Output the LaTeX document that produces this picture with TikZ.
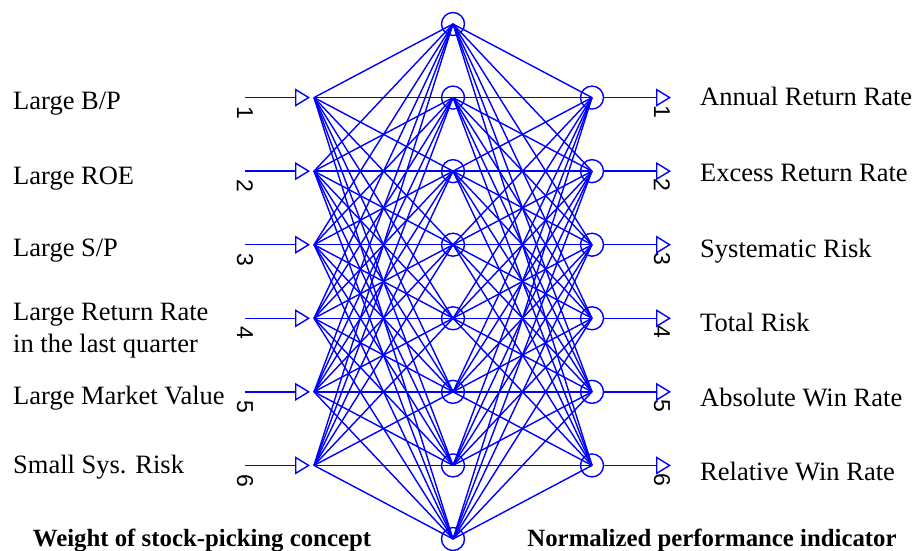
\documentclass[tikz,border=0pt]{standalone}
\usepackage{fontspec}
\setmainfont{Liberation Serif}
\newfontfamily\numfont{Liberation Sans}
\usetikzlibrary{arrows.meta}
\definecolor{netblue}{RGB}{0,0,255}
\begin{document}
\begin{tikzpicture}[x=1pt,y=-1pt,
  net/.style={draw=netblue, line width=1.4pt},
  hid/.style={circle, draw=netblue, line width=1.4pt, minimum size=23pt, inner sep=0pt},
  tipped/.style={net, -{Triangle[open, length=15pt, width=18pt]}},
  num/.style={font=\numfont\fontsize{23}{23}\selectfont, rotate=-90, inner sep=0pt},
  lab/.style={font=\fontsize{26.5}{30}\selectfont, anchor=base west, inner sep=0pt, align=left},
  foot/.style={font=\bfseries\fontsize{24.8}{28}\selectfont, anchor=base, inner sep=0pt}]
\useasboundingbox (0,0) rectangle (915,551);
% hidden layer
\foreach \k in {0,...,7}
  \node[hid] (h\k) at (453,{24+73.57*\k}) {};
% input and output layers
\foreach \i in {1,...,6}{
  \pgfmathsetmacro{\yy}{24+73.57*\i}
  \coordinate (s\i) at (245,\yy);
  \coordinate (t\i) at (310,\yy);
  \coordinate (in\i) at (314,\yy);
  \node[hid] (o\i) at (592,\yy) {};
  \coordinate (ot\i) at (671,\yy);
  \node[num] (ni\i) at (245,\yy+15) {\i};
  \node[num] (no\i) at (662,\yy+14) {\i};
  \draw[tipped] (s\i) -- (t\i);
  \draw[tipped] (o\i.east) -- (ot\i);
}
\foreach \i in {1,...,6}
  \foreach \k in {0,...,7}{
    \draw[net] (in\i) -- (h\k.center);
    \draw[net] (h\k.center) -- (o\i.center);
  }
% input labels
\node[lab] (l1) at (13,109) {Large B/P};
\node[lab] (l2) at (13,184) {Large ROE};
\node[lab] (l3) at (13,256) {Large S/P};
\node[lab] (l4a) at (13,320) {Large Return Rate};
\node[lab] (l4b) at (13,352) {in the last quarter};
\node[lab] (l5) at (13,404) {Large Market Value};
\node[lab] (l6) at (13,473) {Small Sys. Risk};
% output labels
\node[lab] (r1) at (700,105) {Annual Return Rate};
\node[lab] (r2) at (700,181.5) {Excess Return Rate};
\node[lab] (r3) at (700,257.5) {Systematic Risk};
\node[lab] (r4) at (700,331.5) {Total Risk};
\node[lab] (r5) at (700,406.5) {Absolute Win Rate};
\node[lab] (r6) at (700,480.5) {Relative Win Rate};
% footers
\node[foot] (f1) at (202,546) {Weight of stock-picking concept};
\node[foot] (f2) at (712,546) {Normalized performance indicator};
\end{tikzpicture}
\end{document}
